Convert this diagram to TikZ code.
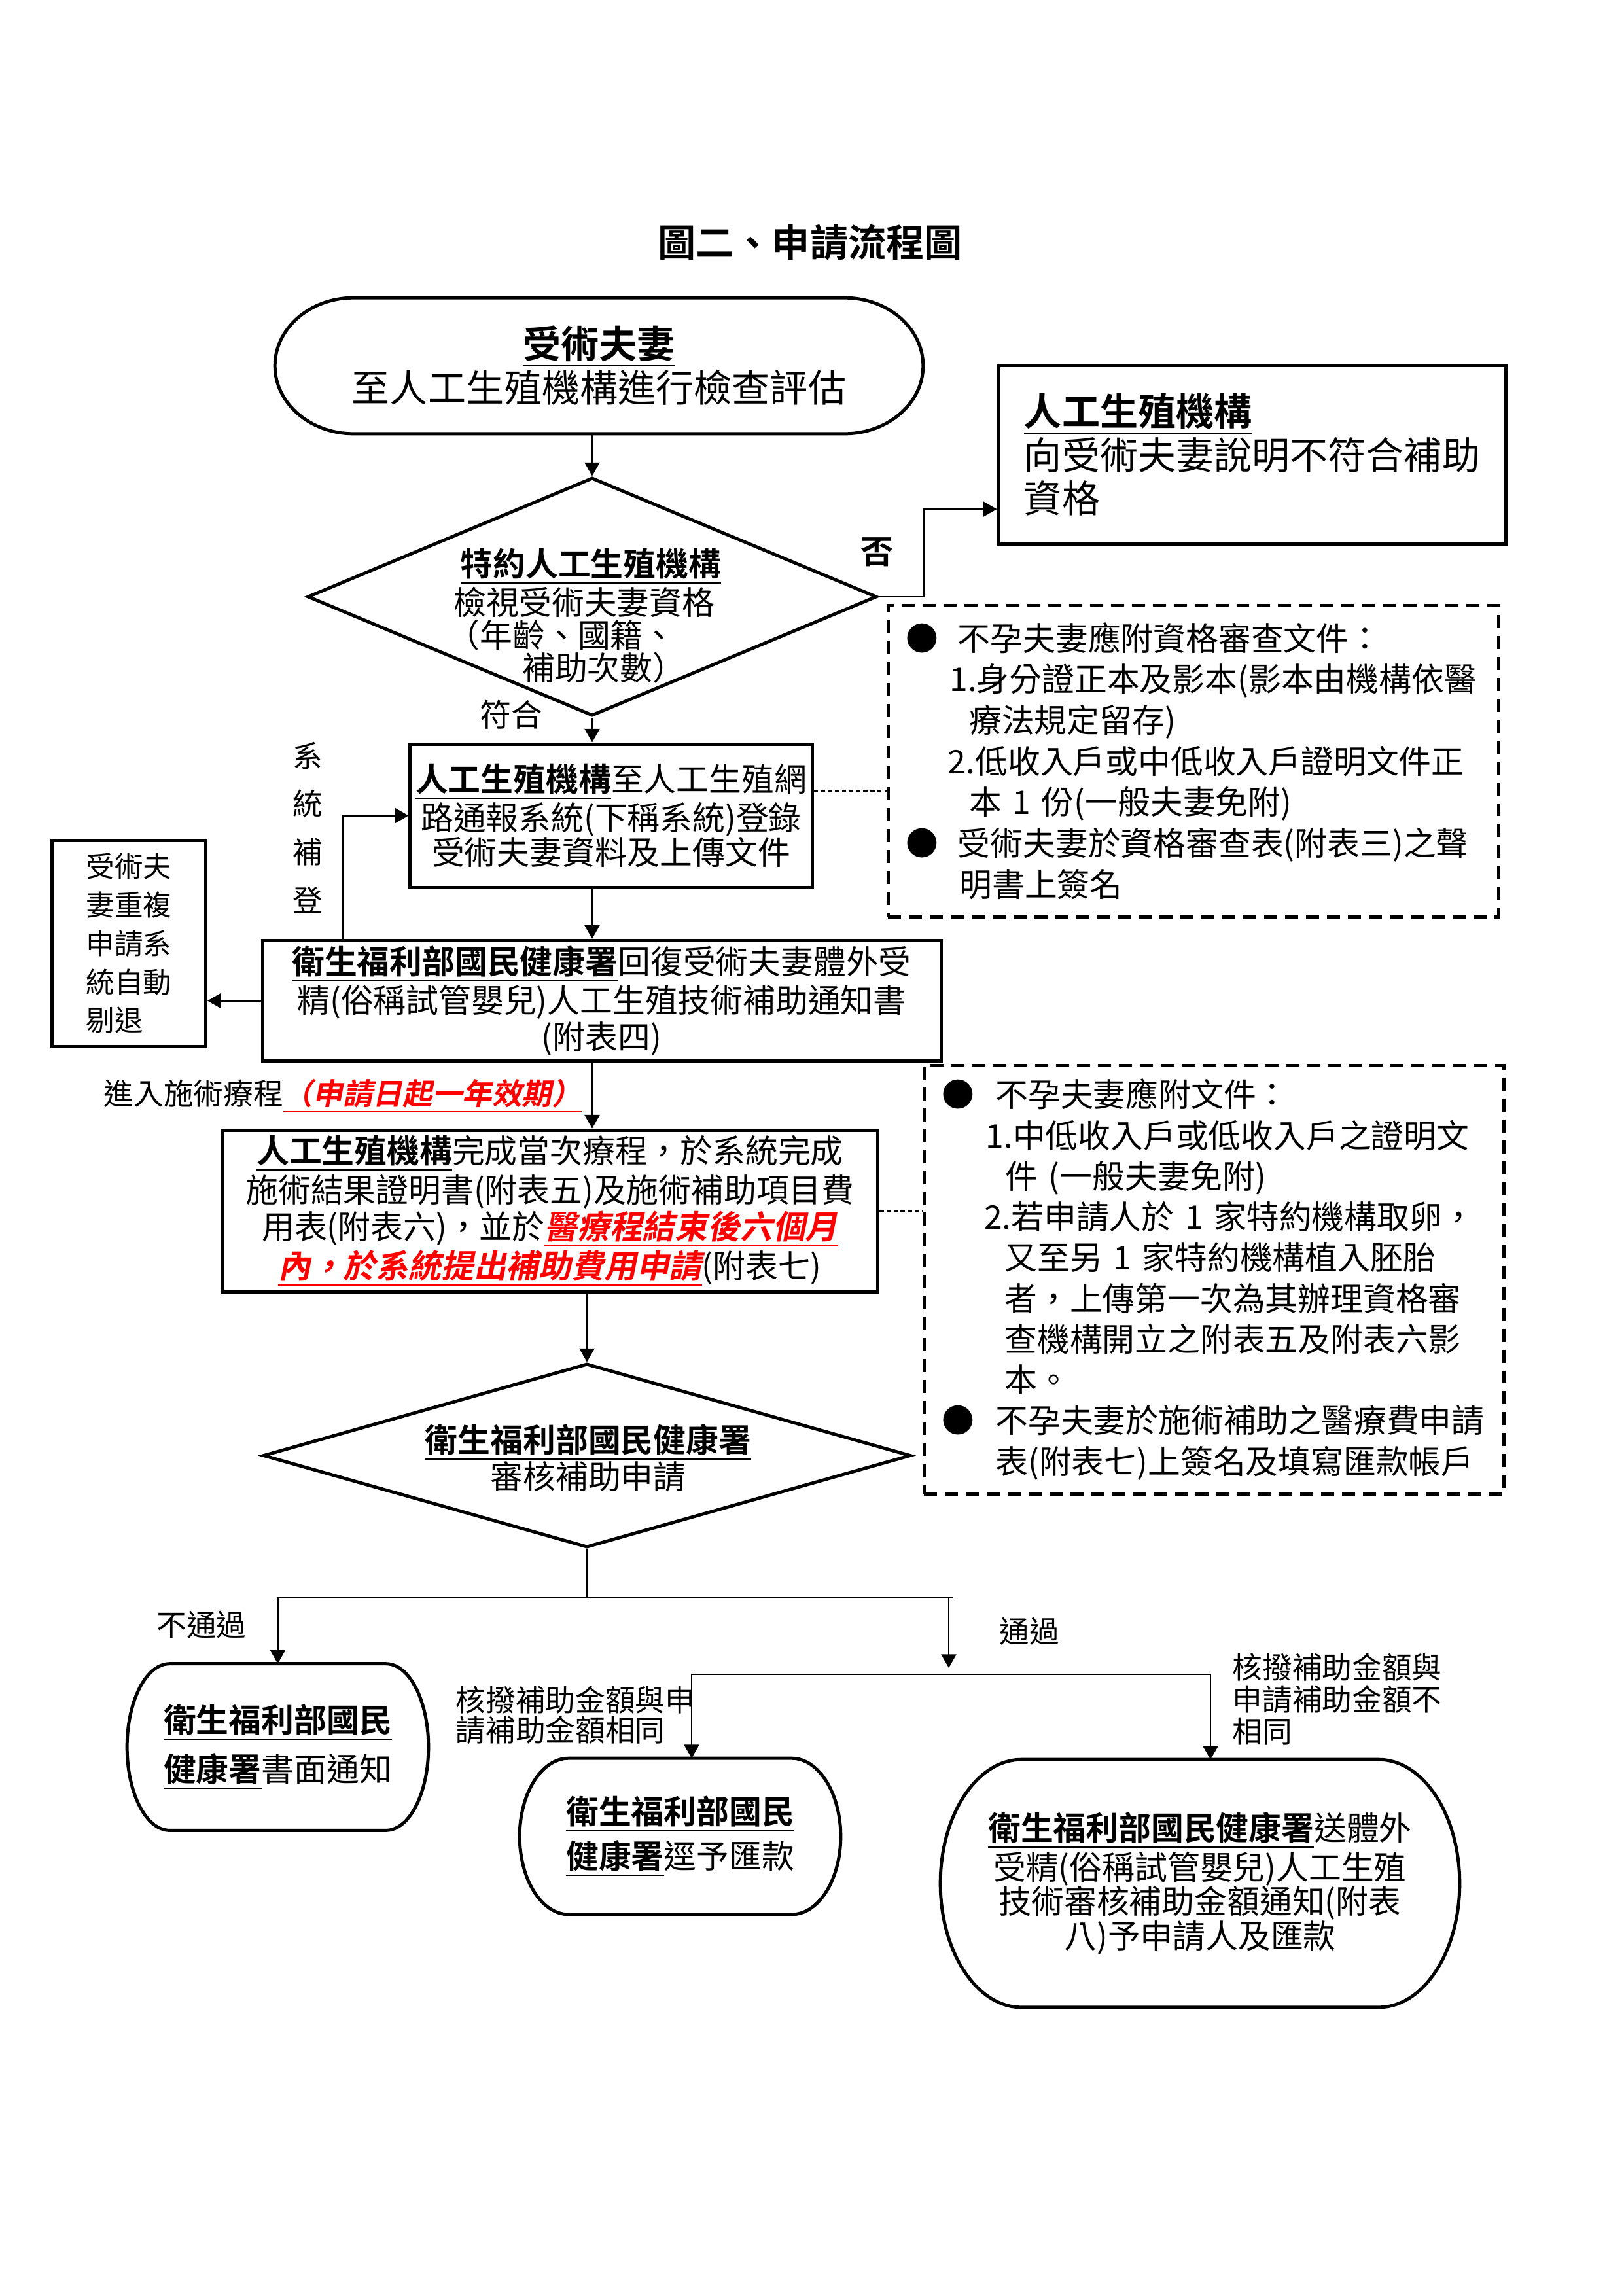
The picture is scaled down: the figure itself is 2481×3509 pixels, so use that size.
\documentclass[tikz,border=0pt]{standalone}
\usepackage{fontspec}
\setmainfont{Noto Sans CJK TC}[BoldFont={Noto Sans CJK TC Bold},
  ItalicFont={Noto Sans CJK TC},ItalicFeatures={FakeSlant=0.2},
  BoldItalicFont={Noto Sans CJK TC Bold},BoldItalicFeatures={FakeSlant=0.2}]
\usepackage{tikz}
\usetikzlibrary{calc}
\usetikzlibrary{arrows.meta}
\usetikzlibrary{shapes.geometric}

\newcommand\pxu{0.0084643cm}
\newcommand\ulb[1]{\underline{\textbf{#1}}}
\newcommand\redmark[1]{\textcolor{red}{\textbf{\textit{\underline{#1}}}}}
\newcommand\drawbarrel[2]{%
 \draw[line width=1.2pt] ([xshift=#2*\pxu]#1.north west) -- ([xshift=-#2*\pxu]#1.north east)
  .. controls ([xshift=-0.448*#2*\pxu]#1.north east) and ($(#1.east)!0.552!(#1.north east)$) .. (#1.east)
  .. controls ($(#1.east)!0.552!(#1.south east)$) and ([xshift=-0.448*#2*\pxu]#1.south east) .. ([xshift=-#2*\pxu]#1.south east)
  -- ([xshift=#2*\pxu]#1.south west)
  .. controls ([xshift=0.448*#2*\pxu]#1.south west) and ($(#1.west)!0.552!(#1.south west)$) .. (#1.west)
  .. controls ($(#1.west)!0.552!(#1.north west)$) and ([xshift=0.448*#2*\pxu]#1.north west) .. cycle;}

\begin{document}
\begin{tikzpicture}[x=\pxu, y=-\pxu,
  box/.style={draw, line width=1.2pt, inner sep=2pt, align=center},
  dia/.style={draw, diamond, line width=1.2pt, inner sep=0pt},
  docs/.style={draw, line width=1.2pt, dash pattern=on 4.8pt off 2.9pt, inner sep=0pt, align=left},
  flow/.style={line width=0.7pt, -{Triangle[length=5pt,width=5.5pt]}},
  link/.style={line width=0.7pt},
  dots/.style={line width=0.6pt, dash pattern=on 1.6pt off 1pt}]
\useasboundingbox (0,0) rectangle (2481,3509);

\node[font=\fontsize{14}{14}\selectfont\bfseries] (title) at (1238,371) {圖二、申請流程圖};

\node[minimum width=989*\pxu, minimum height=206*\pxu, align=center, font=\fontsize{14}{14.5}\selectfont] (start) at (915.5,559) {\ulb{受術夫妻}\\至人工生殖機構進行檢查評估};
\drawbarrel{start}{120}

\node[dia, minimum width=870*\pxu, minimum height=364*\pxu] (chk) at (905,912) {};
\node[align=left, font=\fontsize{12}{12}\selectfont] (chktxt) at (893,941) {\hspace*{0.4em}\ulb{特約人工生殖機構}\\\hspace*{0.2em}檢視受術夫妻資格\\（年齡、國籍、\\\hspace*{2.3em}補助次數）};

\node[box, minimum width=775*\pxu, minimum height=272*\pxu, align=left, font=\fontsize{14}{16}\selectfont] (nobox) at (1913.5,695) {\hspace*{\fill}\ulb{人工生殖機構}\hspace*{\fill}\\向受術夫妻說明不符合補助\\資格};

\node[docs, minimum width=933*\pxu, minimum height=476*\pxu, text width=7.44cm, font=\fontsize{12}{15.1}\selectfont] (docbox) at (1823.5,1163) {●\hspace{0.6em}不孕夫妻應附資格審查文件：\\\hspace*{1.35em}1.身分證正本及影本(影本由機構依醫\\\hspace*{1.95em}療法規定留存)\\\hspace*{1.3em}2.低收入戶或中低收入戶證明文件正\\\hspace*{1.95em}本~1~份(一般夫妻免附)\\●\hspace{0.6em}受術夫妻於資格審查表(附表三)之聲\\\hspace*{1.65em}明書上簽名};

\node[box, minimum width=614*\pxu, minimum height=219*\pxu, font=\fontsize{12}{12.7}\selectfont] (regbox) at (934,1246.5) {\ulb{人工生殖機構}至人工生殖網\\路通報系統(下稱系統)登錄\\受術夫妻資料及上傳文件};

\node[align=center, font=\fontsize{11}{17.8}\selectfont] (syslbl) at (470,1265) {系\\統\\補\\登};

\node[box, minimum width=1037*\pxu, minimum height=181*\pxu, font=\fontsize{12}{12.2}\selectfont] (notifybox) at (919.5,1529.5) {\ulb{衛生福利部國民健康署}回復受術夫妻體外受\\精(俗稱試管嬰兒)人工生殖技術補助通知書\\(附表四)};

\node[box, minimum width=235*\pxu, minimum height=315*\pxu, align=left, font=\fontsize{10.5}{14.2}\selectfont] (rejbox) at (197,1441.5) {受術夫\\妻重複\\申請系\\統自動\\剔退};

\node[anchor=west, inner sep=0pt, font=\fontsize{11}{11}\selectfont] (cyclelbl) at (158,1675) {進入施術療程\redmark{（申請日起一年效期）}};

\node[box, minimum width=1002*\pxu, minimum height=240*\pxu, font=\fontsize{12}{12}\selectfont] (resultbox) at (840.5,1851) {\ulb{人工生殖機構}完成當次療程，於系統完成\\施術結果證明書(附表五)及施術補助項目費\\用表(附表六)，並於\redmark{醫療程結束後六個月}\\\redmark{內，於系統提出補助費用申請}(附表七)};

\node[docs, minimum width=886*\pxu, minimum height=655*\pxu, text width=7.04cm, font=\fontsize{12}{15}\selectfont] (feebox) at (1855,1955.5) {●\hspace{0.65em}不孕夫妻應附文件：\\\hspace*{1.35em}1.中低收入戶或低收入戶之證明文\\\hspace*{1.95em}件~(一般夫妻免附)\\\hspace*{1.3em}2.若申請人於~1~家特約機構取卵，\\\hspace*{1.93em}又至另~1~家特約機構植入胚胎\\\hspace*{1.93em}者，上傳第一次為其辦理資格審\\\hspace*{1.93em}查機構開立之附表五及附表六影\\\hspace*{1.93em}本。\\●\hspace{0.65em}不孕夫妻於施術補助之醫療費申請\\\hspace*{1.65em}表(附表七)上簽名及填寫匯款帳戶};

\node[dia, minimum width=990*\pxu, minimum height=281*\pxu] (reviewdia) at (897,2224.5) {};
\node[align=center, font=\fontsize{12}{13.5}\selectfont] (reviewtxt) at (899,2228) {\ulb{衛生福利部國民健康署}\\審核補助申請};

\node[minimum width=459*\pxu, minimum height=253*\pxu, align=left, font=\fontsize{12}{18}\selectfont] (failbox) at (424.5,2670) {\ulb{衛生福利部國民}\\\ulb{健康署}書面通知};
\drawbarrel{failbox}{65}
\node[minimum width=489*\pxu, minimum height=237*\pxu, align=left, font=\fontsize{12}{16.5}\selectfont] (paybox) at (1039.5,2806.5) {\ulb{衛生福利部國民}\\\ulb{健康署}逕予匯款};
\drawbarrel{paybox}{75}
\node[minimum width=792*\pxu, minimum height=377*\pxu, align=center, font=\fontsize{12}{12.7}\selectfont] (notebox) at (1834,2878.5) {\ulb{衛生福利部國民健康署}送體外\\受精(俗稱試管嬰兒)人工生殖\\技術審核補助金額通知(附表\\八)予申請人及匯款};
\drawbarrel{notebox}{124}

\node[font=\fontsize{12}{12}\selectfont\bfseries] (nolbl) at (1340,844) {否};
\node[font=\fontsize{11.5}{11.5}\selectfont] (oklbl) at (781,1092) {符合};
\node[font=\fontsize{11}{11}\selectfont] (faillbl) at (308,2483) {不通過};
\node[font=\fontsize{11}{11}\selectfont] (passlbl) at (1573,2493) {通過};
\node[anchor=west, inner sep=0pt, align=left, font=\fontsize{11}{11}\selectfont] (samelbl) at (696,2621) {核撥補助金額與申\\請補助金額相同};
\node[anchor=west, inner sep=0pt, align=left, font=\fontsize{11}{11.8}\selectfont] (difflbl) at (1883,2597) {核撥補助金額與\\申請補助金額不\\相同};

\draw[flow] (chk.north |- start.south) -- (chk.north);
\draw[flow] (chk.east) -- ++(70,0) |- ($(nobox.south west)!0.2!(nobox.north west)$);
\draw[flow] (chk.south) -- (chk.south |- regbox.north);
\draw[dots] ($(regbox.south east)!0.67!(regbox.north east)$) -- ++(116,0) coordinate (docfoot);
\coordinate (sysfoot) at (524,1439);
\draw[flow] (sysfoot) |- (regbox.west);
\draw[flow] (chk.south |- regbox.south) -- (chk.south |- notifybox.north);
\draw[flow] (notifybox.west) -- (notifybox.west -| rejbox.east);
\draw[flow] (chk.south |- notifybox.south) -- (chk.south |- resultbox.north);
\draw[dots] (resultbox.east) -- (resultbox.east -| feebox.west);
\draw[flow] (reviewdia.north |- resultbox.south) -- (reviewdia.north);

\coordinate (brr) at (1457,2442);
\draw[link] (reviewdia.south) -- (reviewdia.south |- brr);
\draw[flow] (brr) -| (failbox.north);
\coordinate (passtop) at (1450,2442);
\coordinate (passend) at (1450,2549);
\draw[flow] (passtop) -- (passend);
\coordinate (pl) at (1057,2559);
\coordinate (pr) at (1850,2559);
\draw[flow] (pl) -- (pr) -- (pr |- notebox.north);
\draw[flow] (pl) -- (pl |- paybox.north);

\end{tikzpicture}
\end{document}
